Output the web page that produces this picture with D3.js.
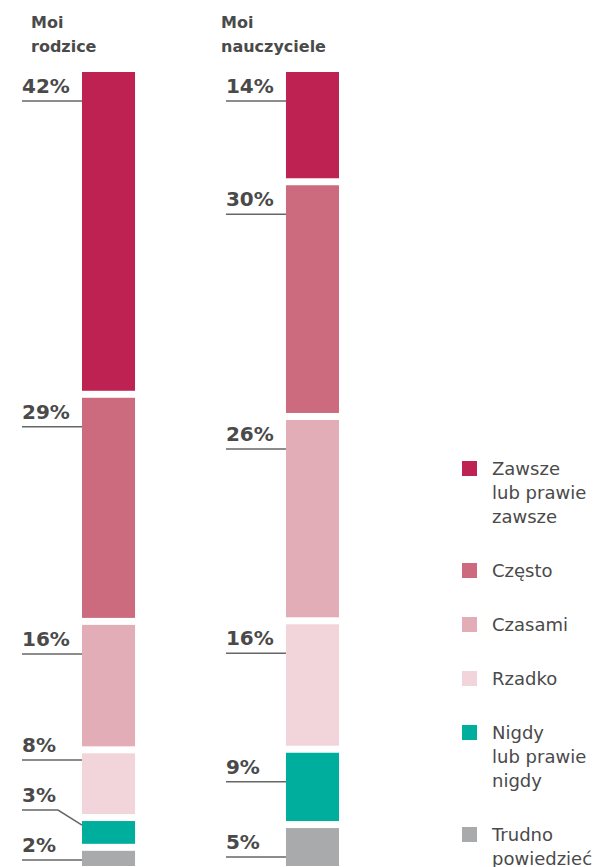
<!DOCTYPE html>
<html>
<head>
<meta charset="utf-8">
<script src="https://cdn.jsdelivr.net/npm/d3@7"></script>
<style>
  body { margin: 0; background: #fff; }
  text { font-family: "DejaVu Sans", sans-serif; fill: #4a4a4a; }
</style>
</head>
<body>
<script>
// dane
var groups = ["Moi rodzice", "Moi nauczyciele"];
var groupTitles = [["Moi", "rodzice"], ["Moi", "nauczyciele"]];
var categories = ["Zawsze lub prawie zawsze", "Często", "Czasami", "Rzadko", "Nigdy lub prawie nigdy", "Trudno powiedzieć"];
var legendLines = [["Zawsze", "lub prawie", "zawsze"], ["Często"], ["Czasami"], ["Rzadko"], ["Nigdy", "lub prawie", "nigdy"], ["Trudno", "powiedzieć"]];
var parentsValues = [42, 29, 16, 8, 3, 2];
var teachersValues = [14, 30, 26, 16, 9, 5];
var colors = ["#be2252", "#cd6b7e", "#e2adb6", "#f2d5da", "#00ae9e", "#a9aaac"];

var width = 594, height = 867,
    barTop = 72, gap = 7;

var svg = d3.select("body").append("svg")
    .attr("width", width)
    .attr("height", height);

var x = d3.scaleBand().domain(groups).range([82, 339]).paddingInner(0.74);
var y = d3.scaleLinear().domain([0, 100]).range([0, 759]);
var color = d3.scaleOrdinal().domain(categories).range(colors);

var series = [parentsValues, teachersValues];
var titleX = [31, 221];

series.forEach(function(values, gi) {
    var g = groups[gi];
    var bx = x(g), bw = x.bandwidth();
    var acc = 0;
    var segs = values.map(function(v, i) {
        var top = barTop + y(acc) + i * gap;
        acc += v;
        return { cat: categories[i], value: v, top: top, h: y(v) };
    });

    // label lines: 29px below segment top, pushed up so labels don't collide
    var lineY = segs.map(function(s) { return s.top + 29; });
    var maxY = 860;
    for (var i = lineY.length - 1; i >= 0; i--) {
        if (lineY[i] > maxY) lineY[i] = maxY;
        maxY = lineY[i] - 50;
    }

    var col = svg.append("g").attr("class", "col");

    col.append("text")
        .attr("x", titleX[gi])
        .attr("y", 28)
        .attr("font-size", "16px")
        .attr("font-weight", "bold")
        .selectAll("tspan")
        .data(groupTitles[gi])
        .enter().append("tspan")
        .attr("x", titleX[gi])
        .attr("dy", function(d, i) { return i ? 24 : 0; })
        .text(function(d) { return d; });

    col.selectAll("rect")
        .data(segs)
        .enter().append("rect")
        .attr("x", bx)
        .attr("y", function(d) { return d.top; })
        .attr("width", bw)
        .attr("height", function(d) { return d.h; })
        .style("fill", function(d) { return color(d.cat); });

    var lab = col.selectAll(".lab")
        .data(segs)
        .enter().append("g")
        .attr("class", "lab");

    lab.append("path")
        .attr("d", function(d, i) {
            var ly = lineY[i];
            if (ly < d.top) {
                return "M" + (bx - 60) + "," + ly + "H" + (bx - 24) + "L" + bx + "," + (d.top + 4);
            }
            return "M" + (bx - 60) + "," + ly + "H" + bx;
        })
        .attr("fill", "none")
        .attr("stroke", "#666")
        .attr("stroke-width", 1.5);

    lab.append("text")
        .attr("x", bx - 60)
        .attr("y", function(d, i) { return lineY[i] - 8; })
        .attr("font-size", "20px")
        .attr("font-weight", "bold")
        .text(function(d) { return d.value + "%"; });
});

// legenda
var lg = svg.append("g").attr("class", "legend");
var ly = 461;
legendLines.forEach(function(lines, i) {
    var item = lg.append("g").attr("transform", "translate(462," + ly + ")");
    item.append("rect")
        .attr("width", 15)
        .attr("height", 15)
        .style("fill", color(categories[i]));
    item.append("text")
        .attr("x", 30)
        .attr("y", 14)
        .attr("font-size", "18px")
        .selectAll("tspan")
        .data(lines)
        .enter().append("tspan")
        .attr("x", 30)
        .attr("dy", function(d, j) { return j ? 24 : 0; })
        .text(function(d) { return d; });
    ly += 30 + lines.length * 24;
});
</script>
</body>
</html>
